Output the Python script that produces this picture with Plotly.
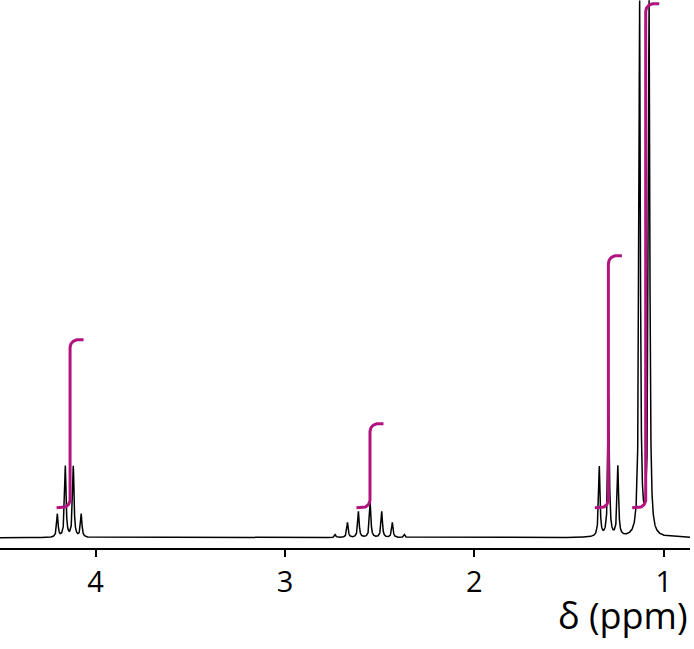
"""1H NMR spectrum with integral curves, drawn with Plotly."""

import numpy as np
import plotly.graph_objects as go

# Peak positions (ppm) and peak heights
quartet_ppm = [4.202, 4.160, 4.118, 4.076]
quartet_height = [23, 71, 71, 23]

septet_ppm = [2.735, 2.670, 2.612, 2.550, 2.489, 2.433, 2.369]
septet_height = [3, 15, 26, 35, 26, 15, 3]

triplet_ppm = [1.340, 1.291, 1.242]
triplet_height = [70, 140, 70]

doublet_ppm = [1.127, 1.077]
doublet_height = [533, 533]

# Integrals: where each step rises and how many protons it counts
integral_ppm = [4.135, 2.551, 1.292, 1.095]
integral_protons = [2, 1, 3, 6]

tick_values = [4, 3, 2, 1]

MAGENTA = "#b3137f"
LINE_HALF_WIDTH = 0.0045   # Lorentzian half width, ppm
PX_PER_PPM = 189.3         # horizontal scale of the plot
INTEGRAL_BASE = 30         # integral curves start this far above the baseline
INTEGRAL_PER_H = 84
X_RANGE = [4.505, 0.861]


def lorentzian(x, center, height, gamma):
    return height / (1 + ((x - center) / gamma) ** 2)


def integral_path(center, protons, half_px=13.5, radius_px=8.0):
    """Stylised integral: short flat run, rounded corner, rise, rounded corner."""
    y0 = INTEGRAL_BASE
    y1 = INTEGRAL_BASE + protons * INTEGRAL_PER_H
    r = radius_px
    t = np.linspace(0, np.pi / 2, 20)
    # pixel offsets to the right of the riser (positive = lower ppm)
    xs = [-half_px]
    ys = [y0]
    xs += list(-r + r * np.sin(t))
    ys += list(y0 + r - r * np.cos(t))
    xs += list(r - r * np.cos(t))
    ys += list(y1 - r + r * np.sin(t))
    xs += [half_px]
    ys += [y1]
    ppm = [center - dx / PX_PER_PPM for dx in xs]
    return ppm, ys


ppm_grid = np.linspace(0.86, 4.51, 9000)
spectrum = np.zeros_like(ppm_grid)
for positions, heights in [
    (quartet_ppm, quartet_height),
    (septet_ppm, septet_height),
    (triplet_ppm, triplet_height),
    (doublet_ppm, doublet_height),
]:
    for c, h in zip(positions, heights):
        spectrum += lorentzian(ppm_grid, c, h, LINE_HALF_WIDTH)

fig = go.Figure()
fig.add_trace(go.Scatter(
    x=ppm_grid, y=spectrum, mode="lines",
    line=dict(color="black", width=1.5), hoverinfo="skip",
))
for c, n in zip(integral_ppm, integral_protons):
    ix, iy = integral_path(c, n)
    fig.add_trace(go.Scatter(
        x=ix, y=iy, mode="lines",
        line=dict(color=MAGENTA, width=3), hoverinfo="skip",
    ))

fig.add_annotation(
    text="δ (ppm)", x=1, y=-0.1225, xref="paper", yref="paper",
    xanchor="right", yanchor="middle", showarrow=False,
    font=dict(family="Open Sans", size=36, color="black"),
)

fig.update_layout(
    width=694, height=649,
    margin=dict(l=0, r=4, t=0, b=101),
    paper_bgcolor="white", plot_bgcolor="white",
    showlegend=False,
    xaxis=dict(
        range=X_RANGE, showline=True, linecolor="black", linewidth=2,
        ticks="outside", ticklen=7, tickwidth=1.5, tickcolor="black",
        tickvals=tick_values, ticktext=[str(v) for v in tick_values],
        tickfont=dict(family="Open Sans", size=29, color="black"),
        showgrid=False, zeroline=False,
    ),
    yaxis=dict(range=[-10.3, 537.7], visible=False, showgrid=False, zeroline=False),
)

# the page body has a default 8px margin; drop it so the figure fills the window
fig.write_html(
    "out.html",
    config={"displayModeBar": False},
    post_script="document.body.style.margin='0';document.body.style.overflow='hidden';",
)
